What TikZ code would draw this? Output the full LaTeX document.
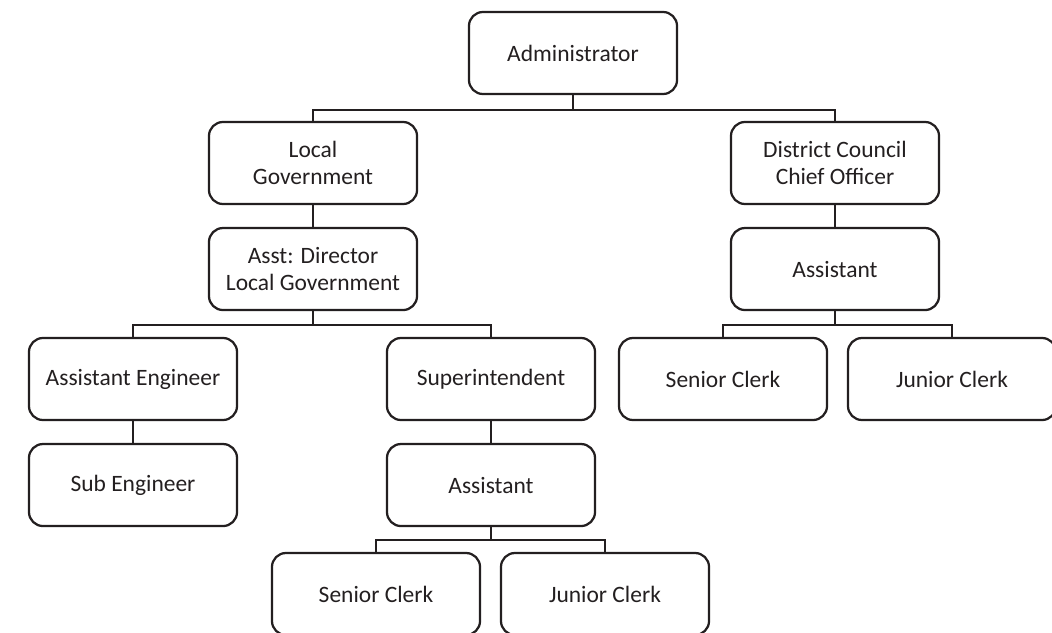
\documentclass[tikz,border=0pt]{standalone}
\usepackage{fontspec}
\setmainfont{Carlito}
\usepackage{xcolor}
\definecolor{ink}{HTML}{231F20}

\begin{document}
\begin{tikzpicture}[x=0.025cm,y=-0.025cm,node distance={26.5mm},
main/.style={draw=ink,text=ink,rounded corners=3.5mm,minimum width=52mm,minimum height=20.5mm,align=center,line width=1.6pt,font=\fontsize{16.7}{19}\selectfont},
link/.style={draw=ink,line width=1.6pt}]
\useasboundingbox (0,0) rectangle (1052,632);

\node[main] (1) at (573,53) {Administrator};
\node[main] (2) at (313,163) {Local\\Government};
\node[main] (3) at (835,163) {District Council\\Chief Officer};
\node[main] (4) [below of=2] {Asst: Director\\Local Government};
\node[main] (5) [below of=3] {Assistant};
\node[main] (6) at (133,379) {Assistant Engineer};
\node[main] (7) at (491,379) {Superintendent};
\node[main] (8) at (723,379) {Senior Clerk};
\node[main] (9) at (952,379) {Junior Clerk};
\node[main] (10) [below of=6] {Sub Engineer};
\node[main] (11) [below of=7] {Assistant};
\node[main] (12) at (376,594) {Senior Clerk};
\node[main] (13) at (605,594) {Junior Clerk};

\draw[link] (1.south) -- ++(0,15) -| (2.north);
\draw[link] (1.south) -- ++(0,15) -| (3.north);
\draw[link] (2) -- (4);
\draw[link] (3) -- (5);
\draw[link] (4.south) -- ++(0,14) -| (6.north);
\draw[link] (4.south) -- ++(0,14) -| (7.north);
\draw[link] (5.south) -- ++(0,14) -| (8.north);
\draw[link] (5.south) -- ++(0,14) -| (9.north);
\draw[link] (6) -- (10);
\draw[link] (7) -- (11);
\draw[link] (11.south) -- ++(0,13) -| (12.north);
\draw[link] (11.south) -- ++(0,13) -| (13.north);

\end{tikzpicture}
\end{document}
